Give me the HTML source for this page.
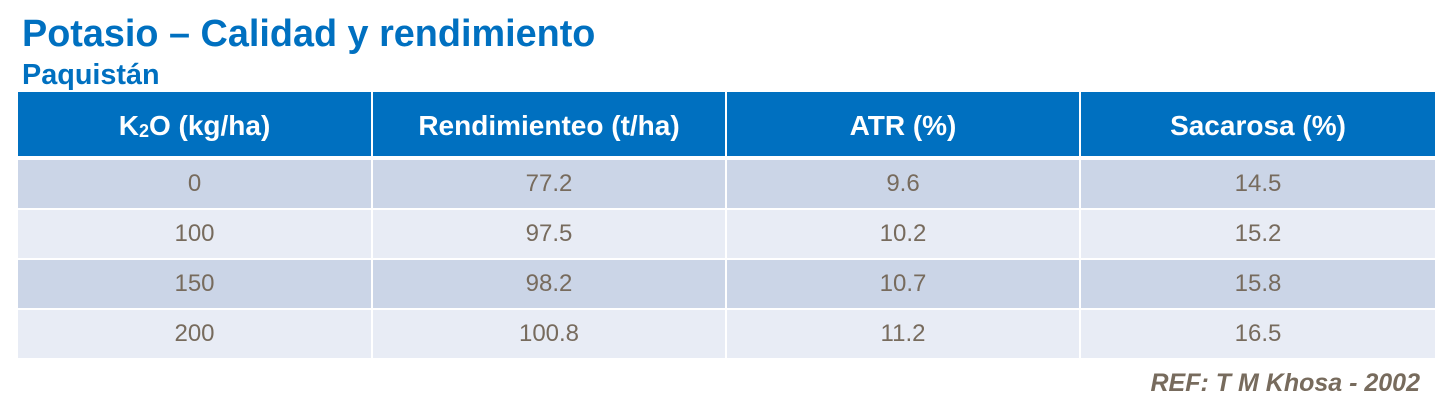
<!DOCTYPE html>
<html><head><meta charset="utf-8"><style>
body{margin:0;width:1435px;height:413px;background:#fff;position:relative;overflow:hidden;font-family:"Liberation Sans",Arial,sans-serif}
.a{position:absolute}
.h{background:#0070C0;color:#fff;font-weight:bold;font-size:28px;display:flex;align-items:center;justify-content:center;padding-top:4px;box-sizing:border-box}
.c{color:#776b5d;font-size:24px;display:flex;align-items:center;justify-content:center}
.d{background:#CBD5E7}.l{background:#E8ECF5}
</style></head><body>
<div class="a" style="left:22px;top:13px;font-size:37.8px;font-weight:bold;color:#0070C0">Potasio – Calidad y rendimiento</div>
<div class="a" style="left:22px;top:59px;font-size:28.8px;font-weight:bold;color:#0070C0">Paquistán</div>
<div class="a h" style="left:18px;top:92px;width:353px;height:64px">K<sub style="font-size:18px;position:relative;top:5px;vertical-align:baseline">2</sub>O (kg/ha)</div>
<div class="a h" style="left:373px;top:92px;width:352px;height:64px">Rendimienteo (t/ha)</div>
<div class="a h" style="left:727px;top:92px;width:352px;height:64px">ATR (%)</div>
<div class="a h" style="left:1081px;top:92px;width:354px;height:64px">Sacarosa (%)</div>

<div class="a c d" style="left:18px;top:160px;width:353px;height:48px">0</div>
<div class="a c d" style="left:373px;top:160px;width:352px;height:48px">77.2</div>
<div class="a c d" style="left:727px;top:160px;width:352px;height:48px">9.6</div>
<div class="a c d" style="left:1081px;top:160px;width:354px;height:48px">14.5</div>

<div class="a c l" style="left:18px;top:210px;width:353px;height:48px">100</div>
<div class="a c l" style="left:373px;top:210px;width:352px;height:48px">97.5</div>
<div class="a c l" style="left:727px;top:210px;width:352px;height:48px">10.2</div>
<div class="a c l" style="left:1081px;top:210px;width:354px;height:48px">15.2</div>

<div class="a c d" style="left:18px;top:260px;width:353px;height:48px">150</div>
<div class="a c d" style="left:373px;top:260px;width:352px;height:48px">98.2</div>
<div class="a c d" style="left:727px;top:260px;width:352px;height:48px">10.7</div>
<div class="a c d" style="left:1081px;top:260px;width:354px;height:48px">15.8</div>

<div class="a c l" style="left:18px;top:310px;width:353px;height:48px">200</div>
<div class="a c l" style="left:373px;top:310px;width:352px;height:48px">100.8</div>
<div class="a c l" style="left:727px;top:310px;width:352px;height:48px">11.2</div>
<div class="a c l" style="left:1081px;top:310px;width:354px;height:48px">16.5</div>

<div class="a" style="right:15px;top:369px;font-size:25px;font-weight:bold;font-style:italic;color:#776b5d">REF: T M Khosa - 2002</div>
</body></html>
